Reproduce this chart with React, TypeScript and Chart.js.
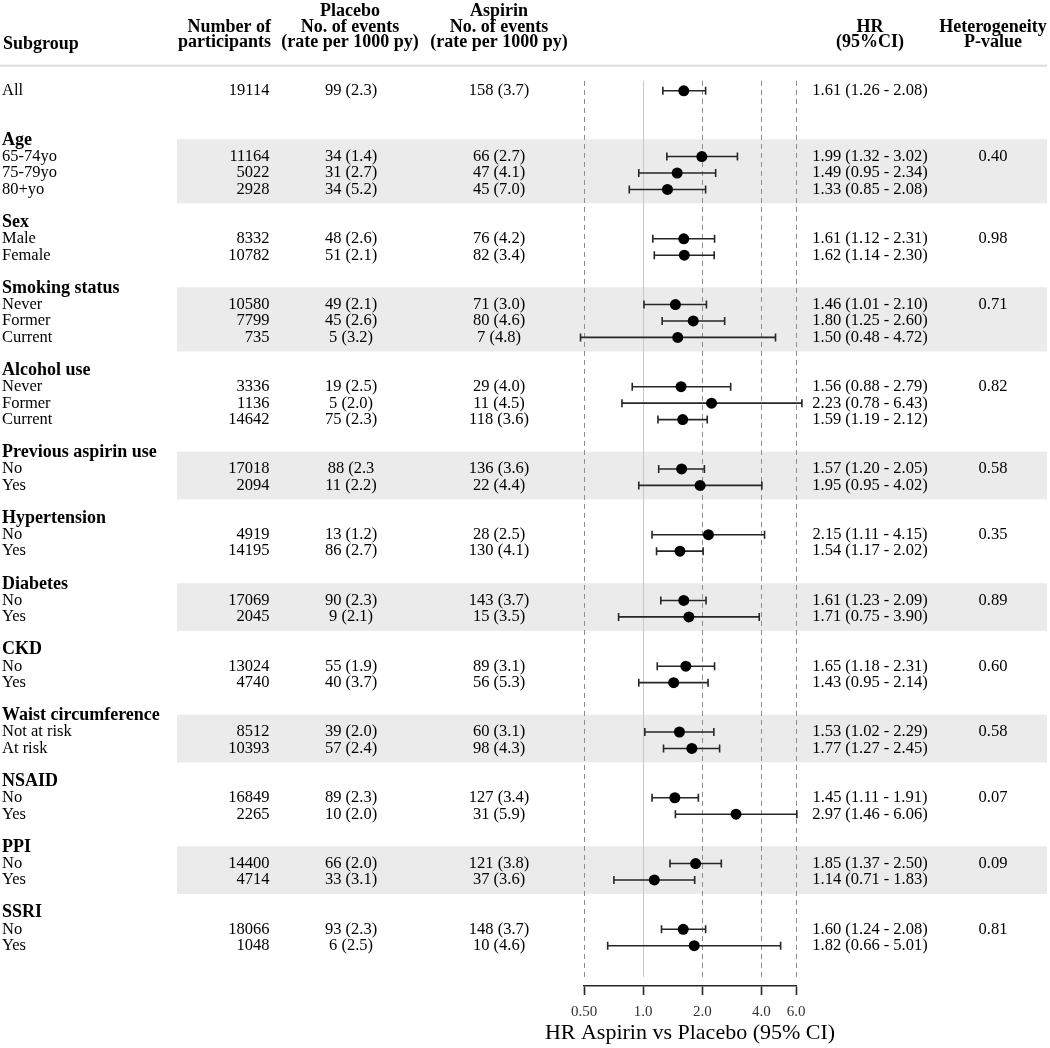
import React, { useEffect, useRef } from "react";
import { Chart, registerables } from "chart.js";

Chart.register(...registerables);

// ---------------- data ----------------
const groupNames = [
  "Age",
  "Sex",
  "Smoking status",
  "Alcohol use",
  "Previous aspirin use",
  "Hypertension",
  "Diabetes",
  "CKD",
  "Waist circumference",
  "NSAID",
  "PPI",
  "SSRI",
];
const groupBanded = [true, false, true, false, true, false, true, false, true, false, true, false];
const heterogeneityP = ["0.40", "0.98", "0.71", "0.82", "0.58", "0.35", "0.89", "0.60", "0.58", "0.07", "0.09", "0.81"];

const rowGroups = [-1, 0, 0, 0, 1, 1, 2, 2, 2, 3, 3, 3, 4, 4, 5, 5, 6, 6, 7, 7, 8, 8, 9, 9, 10, 10, 11, 11];
const rowLabels = [
  "All",
  "65-74yo", "75-79yo", "80+yo",
  "Male", "Female",
  "Never", "Former", "Current",
  "Never", "Former", "Current",
  "No", "Yes",
  "No", "Yes",
  "No", "Yes",
  "No", "Yes",
  "Not at risk", "At risk",
  "No", "Yes",
  "No", "Yes",
  "No", "Yes",
];
const participants = [
  "19114", "11164", "5022", "2928", "8332", "10782", "10580", "7799", "735", "3336", "1136", "14642", "17018", "2094",
  "4919", "14195", "17069", "2045", "13024", "4740", "8512", "10393", "16849", "2265", "14400", "4714", "18066", "1048",
];
const placeboEvents = [
  "99 (2.3)", "34 (1.4)", "31 (2.7)", "34 (5.2)", "48 (2.6)", "51 (2.1)", "49 (2.1)", "45 (2.6)", "5 (3.2)", "19 (2.5)",
  "5 (2.0)", "75 (2.3)", "88 (2.3", "11 (2.2)", "13 (1.2)", "86 (2.7)", "90 (2.3)", "9 (2.1)", "55 (1.9)", "40 (3.7)",
  "39 (2.0)", "57 (2.4)", "89 (2.3)", "10 (2.0)", "66 (2.0)", "33 (3.1)", "93 (2.3)", "6 (2.5)",
];
const aspirinEvents = [
  "158 (3.7)", "66 (2.7)", "47 (4.1)", "45 (7.0)", "76 (4.2)", "82 (3.4)", "71 (3.0)", "80 (4.6)", "7 (4.8)", "29 (4.0)",
  "11 (4.5)", "118 (3.6)", "136 (3.6)", "22 (4.4)", "28 (2.5)", "130 (4.1)", "143 (3.7)", "15 (3.5)", "89 (3.1)", "56 (5.3)",
  "60 (3.1)", "98 (4.3)", "127 (3.4)", "31 (5.9)", "121 (3.8)", "37 (3.6)", "148 (3.7)", "10 (4.6)",
];
const hr = [1.61, 1.99, 1.49, 1.33, 1.61, 1.62, 1.46, 1.8, 1.5, 1.56, 2.23, 1.59, 1.57, 1.95, 2.15, 1.54, 1.61, 1.71, 1.65, 1.43, 1.53, 1.77, 1.45, 2.97, 1.85, 1.14, 1.6, 1.82];
const hrLow = [1.26, 1.32, 0.95, 0.85, 1.12, 1.14, 1.01, 1.25, 0.48, 0.88, 0.78, 1.19, 1.2, 0.95, 1.11, 1.17, 1.23, 0.75, 1.18, 0.95, 1.02, 1.27, 1.11, 1.46, 1.37, 0.71, 1.24, 0.66];
const hrHigh = [2.08, 3.02, 2.34, 2.08, 2.31, 2.3, 2.1, 2.6, 4.72, 2.79, 6.43, 2.12, 2.05, 4.02, 4.15, 2.02, 2.09, 3.9, 2.31, 2.14, 2.29, 2.45, 1.91, 6.06, 2.5, 1.83, 2.08, 5.01];

const xTicks = [0.5, 1, 2, 4, 6];
const xTickLabels = ["0.50", "1.0", "2.0", "4.0", "6.0"];
const xTitle = "HR Aspirin vs Placebo (95% CI)";

// ---------------- layout of rows (row index units) ----------------
const rowIndex: number[] = [0];
const headerIndex: number[] = [];
{
  let cur = 3;
  groupNames.forEach((_, g) => {
    headerIndex[g] = cur;
    let k = 0;
    rowGroups.forEach((rg, i) => {
      if (rg === g) {
        k += 1;
        rowIndex[i] = cur + k;
      }
    });
    cur += k + 2;
  });
}

const FONT = '"Liberation Serif", "Times New Roman", Times, serif';

const fmt = (v: number) => v.toFixed(2);

const forestPlugin = {
  id: "forest",
  beforeDraw(chart: any) {
    const ctx = chart.ctx;
    const ys = chart.scales.y;
    ctx.save();
    ctx.fillStyle = "#ffffff";
    ctx.fillRect(0, 0, chart.width, chart.height);
    // bands
    ctx.fillStyle = "#ebebeb";
    groupNames.forEach((_, g) => {
      if (!groupBanded[g]) return;
      const items = rowIndex.filter((_, i) => rowGroups[i] === g);
      const last = Math.max(...items);
      const y0 = ys.getPixelForValue(headerIndex[g] - 0.05);
      const y1 = ys.getPixelForValue(last + 0.85);
      ctx.fillRect(177, y0, 1047 - 177, y1 - y0);
    });
    // header separator
    ctx.fillStyle = "#dcdcdc";
    ctx.fillRect(0, 64.7, 1047, 2);
    ctx.restore();
  },
  beforeDatasetsDraw(chart: any) {
    const ctx = chart.ctx;
    const xs = chart.scales.x;
    const ys = chart.scales.y;
    ctx.save();
    // reference lines
    const yTop = ys.getPixelForValue(-0.6);
    const yBot = ys.getPixelForValue(53.9);
    xTicks.forEach((v) => {
      const x = Math.round(xs.getPixelForValue(v)) + 0.5;
      ctx.beginPath();
      if (v === 1) {
        ctx.setLineDash([]);
        ctx.strokeStyle = "#c8c8c8";
      } else {
        ctx.setLineDash([5, 4]);
        ctx.strokeStyle = "#8c8c8c";
      }
      ctx.lineWidth = 1;
      ctx.moveTo(x, yTop);
      ctx.lineTo(x, yBot);
      ctx.stroke();
    });
    ctx.setLineDash([]);
    // CI bars
    ctx.strokeStyle = "#262626";
    ctx.lineWidth = 1.6;
    hr.forEach((_, i) => {
      const y = ys.getPixelForValue(rowIndex[i]);
      const x1 = xs.getPixelForValue(hrLow[i]);
      const x2 = xs.getPixelForValue(hrHigh[i]);
      ctx.beginPath();
      ctx.moveTo(x1, y);
      ctx.lineTo(x2, y);
      ctx.moveTo(x1, y - 4);
      ctx.lineTo(x1, y + 4);
      ctx.moveTo(x2, y - 4);
      ctx.lineTo(x2, y + 4);
      ctx.stroke();
    });
    ctx.restore();
  },
  afterDraw(chart: any) {
    const ctx = chart.ctx;
    const ys = chart.scales.y;
    const area = chart.chartArea;
    ctx.save();
    ctx.fillStyle = "#000000";
    ctx.textBaseline = "middle";

    // column headers
    const hb = `bold 18px ${FONT}`;
    ctx.font = hb;
    ctx.textAlign = "left";
    ctx.fillText("Subgroup", 3, 44);
    ctx.textAlign = "right";
    ctx.fillText("Number of", 271, 27);
    ctx.fillText("participants", 271, 42.5);
    ctx.textAlign = "center";
    ctx.fillText("Placebo", 350, 11.5);
    ctx.fillText("No. of events", 350, 27);
    ctx.fillText("(rate per 1000 py)", 350, 42.5);
    ctx.fillText("Aspirin", 499, 11.5);
    ctx.fillText("No. of events", 499, 27);
    ctx.fillText("(rate per 1000 py)", 499, 42.5);
    ctx.fillText("HR", 870, 27);
    ctx.fillText("(95%CI)", 870, 42.5);
    ctx.fillText("Heterogeneity", 993, 27);
    ctx.fillText("P-value", 993, 42.5);

    // group headers + p-values
    groupNames.forEach((name, g) => {
      ctx.font = hb;
      ctx.textAlign = "left";
      ctx.fillText(name, 2, ys.getPixelForValue(headerIndex[g]));
      const first = Math.min(...rowIndex.filter((_, i) => rowGroups[i] === g));
      ctx.font = `16.5px ${FONT}`;
      ctx.textAlign = "center";
      ctx.fillText(heterogeneityP[g], 993, ys.getPixelForValue(first));
    });

    // rows
    ctx.font = `16.5px ${FONT}`;
    rowLabels.forEach((lab, i) => {
      const y = ys.getPixelForValue(rowIndex[i]);
      ctx.textAlign = "left";
      ctx.fillText(lab, 2, y);
      ctx.textAlign = "right";
      ctx.fillText(participants[i], 269.5, y);
      ctx.textAlign = "center";
      ctx.fillText(placeboEvents[i], 351, y);
      ctx.fillText(aspirinEvents[i], 499, y);
      ctx.fillText(`${fmt(hr[i])} (${fmt(hrLow[i])} - ${fmt(hrHigh[i])})`, 870, y);
    });

    // axis title
    ctx.font = `22px ${FONT}`;
    ctx.textAlign = "center";
    ctx.fillText(xTitle, (area.left + area.right) / 2, 1033);
    ctx.restore();
  },
};

export default function App() {
  const ref = useRef<HTMLCanvasElement | null>(null);
  useEffect(() => {
    if (!ref.current) return;
    const chart = new Chart(ref.current, {
      type: "scatter",
      data: {
        datasets: [
          {
            data: hr.map((v, i) => ({ x: v, y: rowIndex[i] })),
            pointRadius: 5.5,
            pointBackgroundColor: "#000000",
            pointBorderWidth: 0,
            showLine: false,
            clip: false,
          } as any,
        ],
      },
      options: {
        responsive: false,
        devicePixelRatio: 1,
        animation: false,
        events: [],
        layout: { padding: { left: 584, right: 254, top: 70, bottom: 22 } },
        plugins: { legend: { display: false }, tooltip: { enabled: false } },
        scales: {
          x: {
            type: "logarithmic",
            position: "bottom",
            min: 0.5,
            max: 6,
            afterBuildTicks: (s: any) => {
              s.ticks = xTicks.map((v) => ({ value: v }));
            },
            afterFit: (s: any) => {
              s.height = 40;
            },
            ticks: {
              autoSkip: false,
              maxRotation: 0,
              padding: 8,
              color: "#333333",
              font: { family: FONT, size: 15 },
              callback: (v: any) => {
                const k = xTicks.indexOf(Number(v));
                return k >= 0 ? xTickLabels[k] : "";
              },
            },
            grid: { drawOnChartArea: false, drawTicks: true, tickLength: 9, tickWidth: 1.6, tickColor: "#262626" },
            border: { display: true, color: "#262626", width: 1.6 },
          },
          y: {
            type: "linear",
            display: false,
            reverse: true,
            min: -1.265,
            max: 54.45,
          },
        },
      } as any,
      plugins: [forestPlugin],
    });
    return () => chart.destroy();
  }, []);
  return (
    <div style={{ position: "absolute", left: 0, top: 0, width: 1050, height: 1048 }}>
      <canvas ref={ref} width={1050} height={1048} style={{ display: "block", width: 1050, height: 1048 }} />
    </div>
  );
}
